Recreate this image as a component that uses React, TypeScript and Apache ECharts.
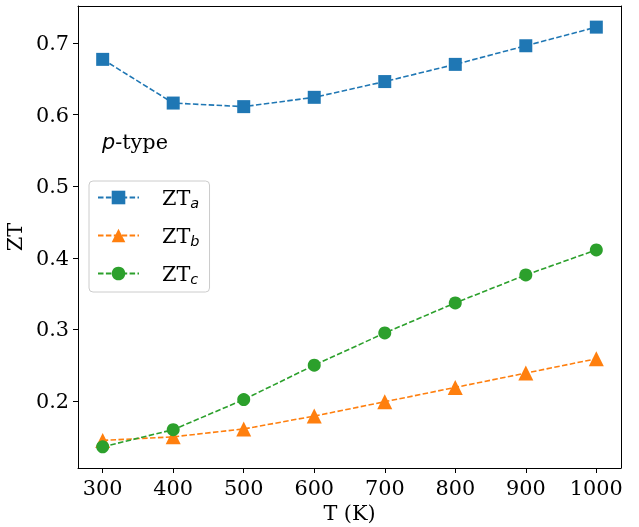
import React, { useEffect, useRef } from "react";
import * as echarts from "echarts";

const temps = [300, 400, 500, 600, 700, 800, 900, 1000];
const ztA = [0.677, 0.616, 0.611, 0.624, 0.646, 0.670, 0.696, 0.722];
const ztB = [0.145, 0.150, 0.161, 0.179, 0.199, 0.219, 0.239, 0.259];
const ztC = [0.136, 0.160, 0.202, 0.250, 0.295, 0.337, 0.376, 0.411];
const xTicks = [300, 400, 500, 600, 700, 800, 900, 1000];
const yTicks = [0.2, 0.3, 0.4, 0.5, 0.6, 0.7];

const FONT = "DejaVu Serif";
const SANS = "DejaVu Sans";
const FS = 20.8;

export default function App() {
  const ref = useRef<HTMLDivElement>(null);
  useEffect(() => {
    if (!ref.current) return;
    const chart = echarts.init(ref.current, null, { renderer: "svg" });
    const mk = (name: string, data: number[], color: string, symbol: string, size: number) => ({
      name,
      type: "line",
      xAxisIndex: 0,
      yAxisIndex: 0,
      data: temps.map((t, i) => [t, data[i]]),
      symbol,
      symbolSize: size,
      showAllSymbol: true,
      color,
      itemStyle: { color, opacity: 1 },
      lineStyle: { color, width: 1.6, type: [5.5, 2.4] },
      emphasis: { disabled: true },
    });
    const frameAxis = { show: true, lineStyle: { color: "#000", width: 1 } };
    chart.setOption({
      animation: false,
      grid: {
        left: 78,
        right: 18,
        top: 6,
        bottom: 59,
        containLabel: false,
        outerBoundsMode: "none",
      },
      xAxis: [
        {
          type: "value",
          min: 265,
          max: 1035,
          axisLine: frameAxis,
          axisTick: { show: true, customValues: xTicks, length: 5, lineStyle: { color: "#000" } },
          axisLabel: {
            customValues: xTicks,
            fontFamily: FONT,
            fontSize: FS,
            color: "#000",
            margin: 9,
            formatter: (v: number) => String(v),
          },
          splitLine: { show: false },
        },
        {
          type: "value",
          position: "top",
          min: 265,
          max: 1035,
          axisLine: frameAxis,
          axisTick: { show: false },
          axisLabel: { show: false },
          splitLine: { show: false },
        },
      ],
      yAxis: [
        {
          type: "value",
          min: 0.1065,
          max: 0.7515,
          axisLine: frameAxis,
          axisTick: { show: true, customValues: yTicks, length: 5, lineStyle: { color: "#000" } },
          axisLabel: {
            customValues: yTicks,
            fontFamily: FONT,
            fontSize: FS,
            color: "#000",
            margin: 9,
            formatter: (v: number) => v.toFixed(1),
          },
          splitLine: { show: false },
        },
        {
          type: "value",
          position: "right",
          min: 0.1065,
          max: 0.7515,
          axisLine: frameAxis,
          axisTick: { show: false },
          axisLabel: { show: false },
          splitLine: { show: false },
        },
      ],
      legend: {
        orient: "vertical",
        left: 89,
        top: 181,
        padding: [6, 10, 6, 8],
        itemWidth: 41,
        itemHeight: 17,
        itemGap: 15,
        borderColor: "#ccc",
        borderWidth: 1,
        borderRadius: 4,
        backgroundColor: "#fff",
        formatter: (n: string) => "ZT{s|" + n.slice(2) + "}",
        textStyle: {
          fontFamily: FONT,
          fontSize: FS,
          color: "#000",
          padding: [0, 0, 0, 18],
          rich: {
            s: {
              fontFamily: SANS,
              fontStyle: "italic",
              fontSize: 14.5,
              color: "#000",
              padding: [10, 0, 0, 0],
            },
          },
        },
        data: ["ZTa", "ZTb", "ZTc"],
      },
      graphic: [
        {
          type: "text",
          left: 102,
          top: 131,
          style: {
            text: "{i|p}-type",
            fontFamily: FONT,
            fontSize: FS,
            fill: "#000",
            rich: {
              i: { fontFamily: SANS, fontStyle: "italic", fontSize: FS, fill: "#000" },
            },
          },
        },
        {
          type: "text",
          x: 349.5,
          y: 513,
          style: {
            text: "T (K)",
            fontFamily: FONT,
            fontSize: FS,
            fill: "#000",
            align: "center",
            verticalAlign: "middle",
          },
        },
        {
          type: "text",
          x: 15,
          y: 237,
          rotation: Math.PI / 2,
          style: {
            text: "ZT",
            fontFamily: FONT,
            fontSize: FS,
            fill: "#000",
            align: "center",
            verticalAlign: "middle",
          },
        },
      ],
      series: [
        mk("ZTa", ztA, "#1f77b4", "rect", 13),
        mk("ZTb", ztB, "#ff7f0e", "triangle", 15),
        mk("ZTc", ztC, "#2ca02c", "circle", 13),
      ],
    });
    return () => chart.dispose();
  }, []);
  return (
    <div
      ref={ref}
      style={{ position: "fixed", left: 0, top: 0, width: 639, height: 527, overflow: "hidden" }}
    />
  );
}
